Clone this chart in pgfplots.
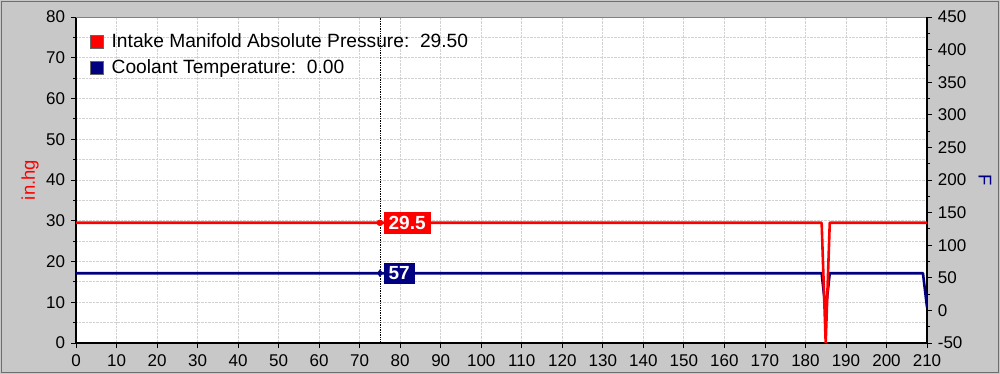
\documentclass[border=0pt]{standalone}
\usepackage{fontspec}
\setmainfont{Liberation Sans}
\usepackage{pgfplots}
\pgfplotsset{compat=1.18}
\definecolor{bggray}{RGB}{200,200,200}
\definecolor{navy}{RGB}{0,0,128}
\definecolor{gridc}{RGB}{210,210,210}
\definecolor{framec}{RGB}{110,110,110}
\tikzset{boxlab/.style={anchor=west, xshift=3.5pt, text=white,
    font=\fontsize{19}{21}\selectfont\bfseries, inner xsep=5pt, inner ysep=4pt}}
\begin{document}
\fontsize{17}{19}\selectfont
\begin{tikzpicture}[x=1pt,y=1pt]
\fill[bggray] (0,0) rectangle (1000,374);
\draw[framec, line width=1.5pt] (1.5,1.5) rectangle (998.5,372.5);
\useasboundingbox (0,0) rectangle (1000,374);
\pgfplotsset{
  common/.style={
    at={(76pt,31pt)}, anchor=south west, scale only axis,
    width=851pt, height=326pt,
    xmin=0, xmax=210,
    /pgf/number format/assume math mode=true,
    every tick label/.append style={font=\fontsize{17}{19}\selectfont, text=black},
    axis line style={-, line width=1.6pt, black},
    tick align=outside, major tick length=5pt, minor tick length=3pt,
    tick style={black, line width=0.8pt},
  },
}
% axis 1: left scale, background, grid, cursor
\begin{axis}[common,
  ymin=0, ymax=80,
  xtick={0,10,...,210}, ytick={0,10,...,80}, minor ytick={5,15,...,75},
  axis background/.style={fill=white},
  axis x line*=bottom, axis y line*=left,
  xticklabel style={yshift=-1pt},
  grid=both,
  major grid style={gridc, densely dotted, line width=0.8pt},
  minor grid style={gridc, densely dotted, line width=0.8pt},
  ylabel={in.hg},
  ylabel style={at={(axis description cs:-0.054,0.5)}, anchor=center, red, font=\fontsize{18.5}{20}\selectfont},
]
\draw[gray, line width=0.8pt] (rel axis cs:0,1) -- (rel axis cs:1,1);
\addplot[black, densely dotted, line width=0.7pt] coordinates {(75,0) (75,80)};
\end{axis}
% axis 2: right scale, coolant temperature
\begin{axis}[common,
  ymin=-50, ymax=450,
  ytick={-50,0,...,450}, minor ytick={-25,25,...,425},
  axis x line=none, axis y line*=right,
  ylabel={F},
  ylabel style={at={(axis description cs:1.068,0.5)}, anchor=center, rotate=180, navy, font=\fontsize{18.5}{20}\selectfont},
]
\addplot[navy, line width=2.6pt, line join=round] coordinates {
(0,57) (184,57) (185,0) (186,57) (209,57) (210,5)};
\addplot[only marks, mark=diamond*, mark size=3.5pt, navy,
  nodes near coords={57}, nodes near coords style={boxlab, fill=navy}]
  coordinates {(75,57)};
\end{axis}
% axis 3: left scale, intake pressure on top, legend
\begin{axis}[common,
  ymin=0, ymax=80, hide axis,
  legend style={at={(rel axis cs:0,1)}, anchor=north west, xshift=11pt, yshift=-12pt,
    draw=none, fill=none, font=\fontsize{19.2}{21}\selectfont, row sep=6pt},
  legend cell align=left,
]
\addlegendimage{legend image code/.code={\draw[fill=red, draw=black!60, line width=0.5pt] (0pt,-6.5pt) rectangle (13pt,6.5pt); \path (19pt,0pt);}}
\addlegendentry{Intake Manifold Absolute Pressure:\ \ 29.50}
\addlegendimage{legend image code/.code={\draw[fill=navy, draw=black!60, line width=0.5pt] (0pt,-6.5pt) rectangle (13pt,6.5pt); \path (19pt,0pt);}}
\addlegendentry{Coolant Temperature:\ \ 0.00}
\addplot[forget plot, red, line width=2.6pt, line join=round] coordinates {
(0,29.5) (184,29.5) (185,0) (186,29.5) (210,29.5)};
\addplot[forget plot, only marks, mark=*, mark size=3pt, red,
  nodes near coords={29.5}, nodes near coords style={boxlab, fill=red}]
  coordinates {(75,29.5)};
\end{axis}
\end{tikzpicture}
\end{document}
